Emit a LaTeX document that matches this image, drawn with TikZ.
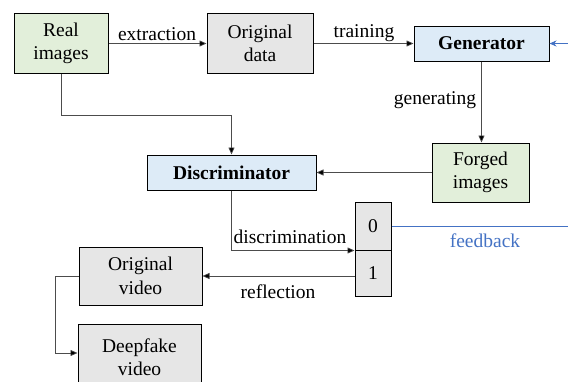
\documentclass[tikz,border=0pt]{standalone}
\usepackage{fontspec}
\setmainfont{Liberation Serif}
\newfontfamily\myserif{Liberation Serif}
\usetikzlibrary{arrows.meta,calc}
\definecolor{fgreen}{RGB}{226,239,218}
\definecolor{fgray}{RGB}{230,230,230}
\definecolor{fblue}{RGB}{221,235,247}
\definecolor{fbline}{RGB}{68,114,196}
\begin{document}
\begin{tikzpicture}[x=1pt,y=-1pt,
  font=\myserif\fontsize{19.5}{23.5}\selectfont,
  boxst/.style={draw=black,line width=1pt,align=center,inner sep=0pt},
  greenbox/.style={boxst,fill=fgreen},
  graybox/.style={boxst,fill=fgray},
  bluebox/.style={boxst,fill=fblue,font=\myserif\fontsize{19.5}{23.5}\selectfont\bfseries},
  conn/.style={draw=black!70,line width=0.7pt,arrows={-{Triangle[length=7pt,width=6pt,fill=black]}}},
  fbconn/.style={draw=fbline,line width=0.9pt,-{Stealth[length=7pt,width=6pt]}},
  lbl/.style={inner sep=0pt}
]
\useasboundingbox (0,0) rectangle (568,381);
\node[greenbox,minimum width=94pt,minimum height=60pt] (real) at (61,43.5) {Real\\images};
\node[graybox,minimum width=106pt,minimum height=60pt] (orig) at (260,43.5) {Original\\data};
\node[bluebox,minimum width=135pt,minimum height=35pt] (gen) at (481.5,43.5) {Generator};
\node[greenbox,minimum width=97pt,minimum height=59pt] (forged) at (480.5,172.5) {Forged\\images};
\node[bluebox,minimum width=169pt,minimum height=35pt] (disc) at (231.5,172.5) {Discriminator};
\node[graybox,minimum width=36pt,minimum height=48pt] (b0) at (373,226) {0};
\node[graybox,minimum width=36pt,minimum height=46pt] (b1) at (373,273) {1};
\node[graybox,minimum width=123pt,minimum height=58pt] (ovid) at (140.5,276) {Original\\video};
\node[graybox,minimum width=123pt,minimum height=66pt] (dvid) at (139.5,357) {Deepfake\\video};

\draw[conn] (real.east) -- (orig.west);
\node[lbl] (lext) at (157,34) {extraction};
\draw[conn] (orig.east) -- (gen.west);
\node[lbl] (ltrain) at (364,33) {training};
\draw[conn] (gen.south) -- (gen.south |- forged.north);
\node[lbl] (lgen) at (435,100) {generating};
\draw[conn] (forged.west) -- (disc.east);
\coordinate (rbend) at (61,115);
\draw[conn] (real.south) -- (rbend) -| (disc.north);
\draw[conn] (disc.south) |- (b0.south west);
\node[lbl] (ldisc) at (290,237) {discrimination};
\draw[conn] (b1.west |- ovid.east) -- (ovid.east);
\node[lbl] (lrefl) at (278,292) {reflection};
\coordinate (lbend) at (55,276);
\draw[conn] (ovid.west) -- (lbend) |- ([yshift=4pt]dvid.west);
\coordinate (fbr) at (585,226);
\draw[fbconn] (b0.east) -- (fbr) |- (gen.east);
\node[lbl,text=fbline] (lfb) at (485,241) {feedback};
\end{tikzpicture}
\end{document}
